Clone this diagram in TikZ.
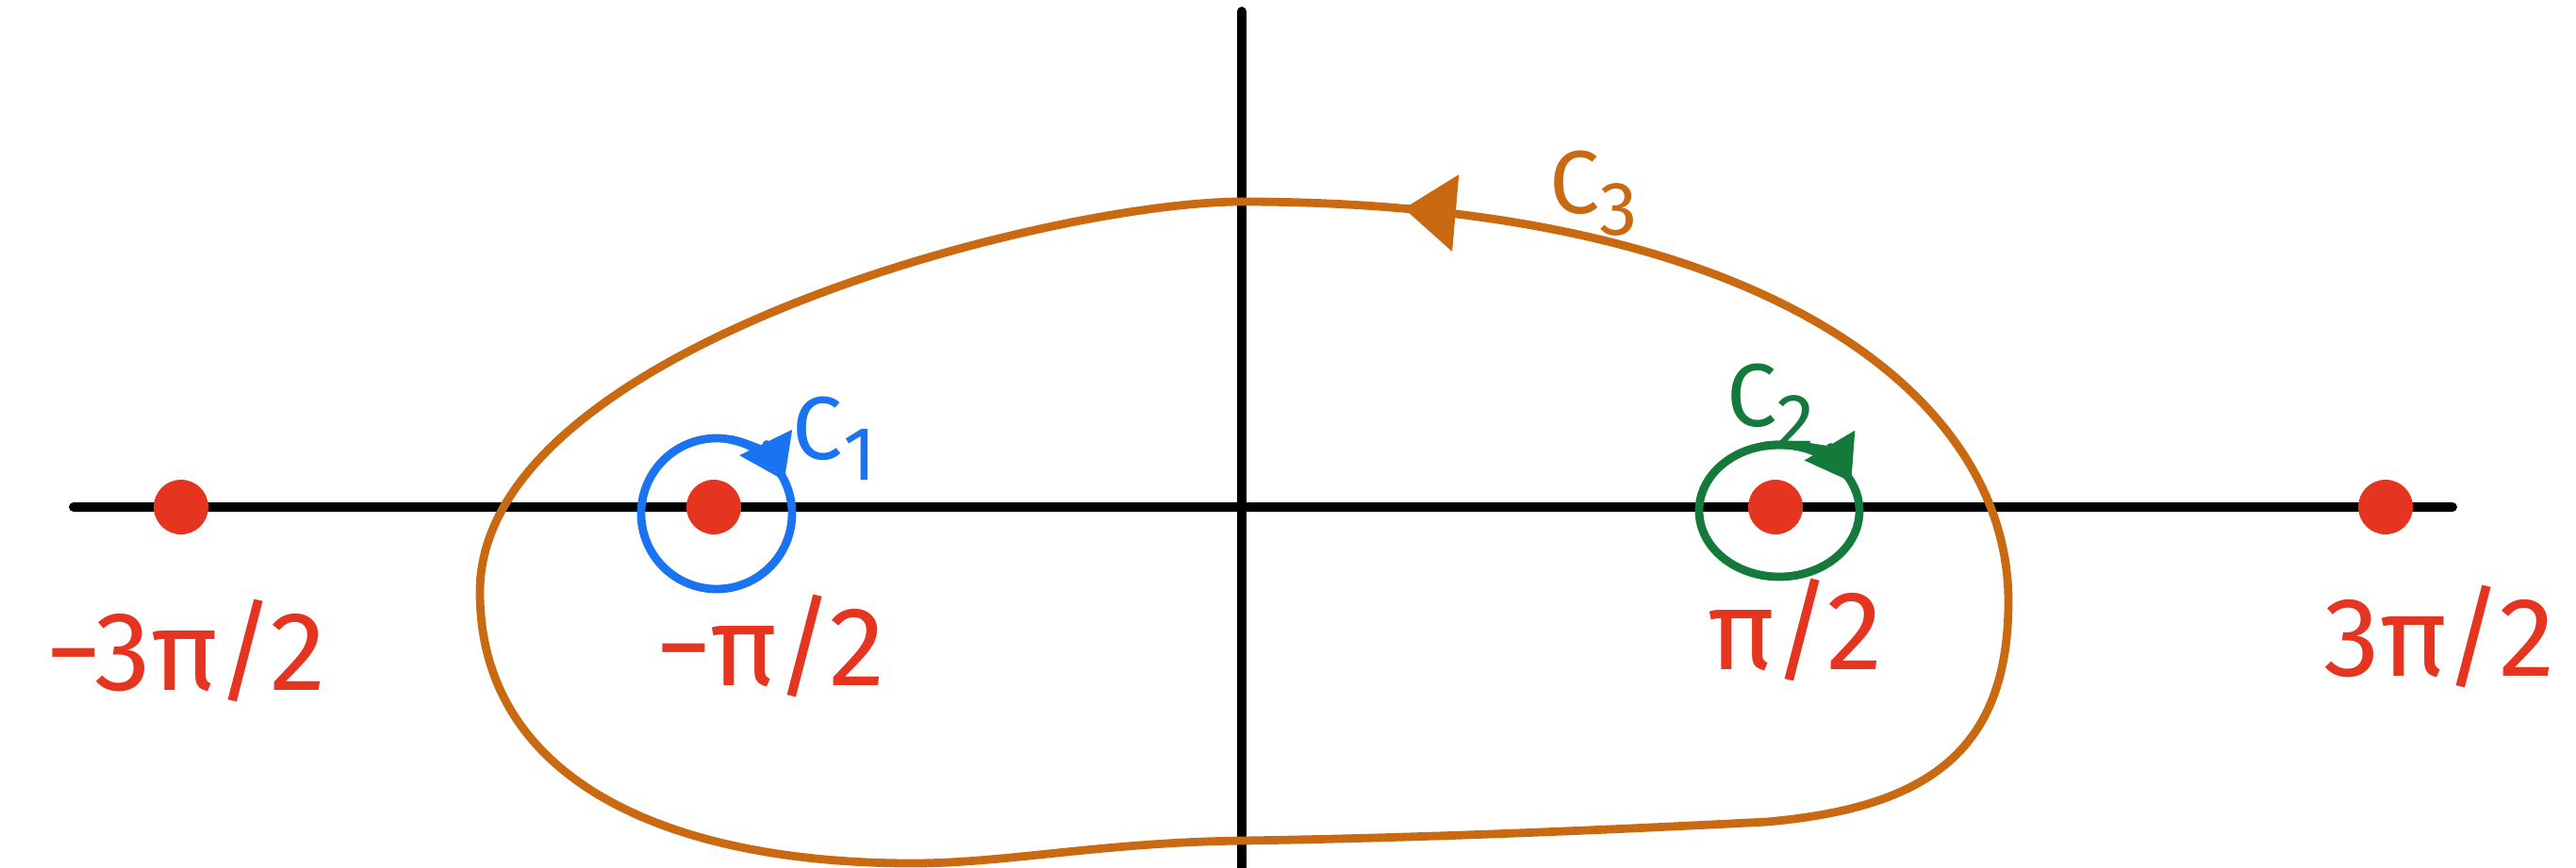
\documentclass[tikz,border=0pt]{standalone}
\usepackage{fontspec}
\setmainfont{Fira Sans}
\usepackage{tikz}
\usetikzlibrary{arrows.meta,decorations.markings}
\definecolor{polered}{HTML}{E5341F}
\definecolor{loopblue}{HTML}{1A73F0}
\definecolor{loopgreen}{HTML}{137A3C}
\definecolor{loopbrown}{HTML}{C96A12}
\newcommand{\lsub}[1]{\raisebox{-0.45ex}{\fontsize{23}{25}\selectfont #1}}

\begin{document}
\begin{tikzpicture}[>={Triangle[length=4.5mm,width=6mm]},
  axis/.style={line width=2.8pt, line cap=round},
  pole/.style={circle, fill=polered, inner sep=0pt, minimum size=5.8mm},
  polelabel/.style={polered, font=\fontsize{34}{40}\selectfont},
  looplabel/.style={font=\fontsize{27}{32}\selectfont},
  loopline/.style={line width=2.5pt, line cap=round}]
  \useasboundingbox (-13.17,-3.82) rectangle (14.15,5.38);
  % axes
  \coordinate (O) at (0,0);
  \coordinate (xl) at (-12.39,0);
  \coordinate (xr) at (12.84,0);
  \coordinate (yt) at (0,5.26);
  \coordinate (yb) at (0,-3.9);
  \draw[axis] (xl) -- (xr);
  \draw[axis] (yb) -- (yt);
  % big contour C3
  \draw[loopbrown, loopline, postaction={decorate},
        decoration={markings, mark=at position 0.215 with
          {\arrow{Triangle[length=5.5mm,width=8mm]}}}]
    (8.13,-1.0) .. controls (8.13,1.2) and (5.5,3.24) .. (0,3.24)
    .. controls (-2,3.24) and (-8.08,1.7) .. (-8.08,-0.9)
    .. controls (-8.08,-2.9) and (-6.09,-3.78) .. (-3.49,-3.78)
    .. controls (-2.5,-3.78) and (-1.5,-3.56) .. (0,-3.54)
    .. controls (2,-3.51) and (4,-3.42) .. (5.57,-3.34)
    .. controls (7.26,-3.19) and (8.13,-2.6) .. cycle;
  \node[looplabel, loopbrown] (c3) at (3.73,3.33) {C\lsub{3}};
  % small loops
  \coordinate (c1c) at (-5.57,-0.07);
  \coordinate (c2c) at (5.70,-0.04);
  \draw[loopblue, loopline] (c1c) circle (0.8);
  \draw[loopblue, loopline, ->] ([shift={(80:0.8)}]c1c) arc (80:26:0.8);
  \node[looplabel, loopblue] (c1) at (-4.32,0.73) {C\lsub{1}};
  \draw[loopgreen, loopline] (c2c) ellipse [x radius=0.85, y radius=0.70];
  \draw[loopgreen, loopline, ->] ([shift={(100:0.85 and 0.70)}]c2c)
    arc [start angle=100, end angle=26, x radius=0.85, y radius=0.70];
  \node[looplabel, loopgreen] (c2) at (5.61,1.08) {C\lsub{2}};
  % poles
  \node[pole] (pA) at (-11.25,0) {};
  \node[pole] (pB) at (-5.60,0) {};
  \node[pole] (pC) at (5.66,0) {};
  \node[pole] (pD) at (12.13,0) {};
  \node[polelabel] (lA) at (-11.20,-1.52) {−3π/2};
  \node[polelabel] (lB) at (-5.00,-1.47) {−π/2};
  \node[polelabel] (lC) at (5.87,-1.30) {π/2};
  \node[polelabel] (lD) at (12.70,-1.37) {3π/2};
\end{tikzpicture}
\end{document}
